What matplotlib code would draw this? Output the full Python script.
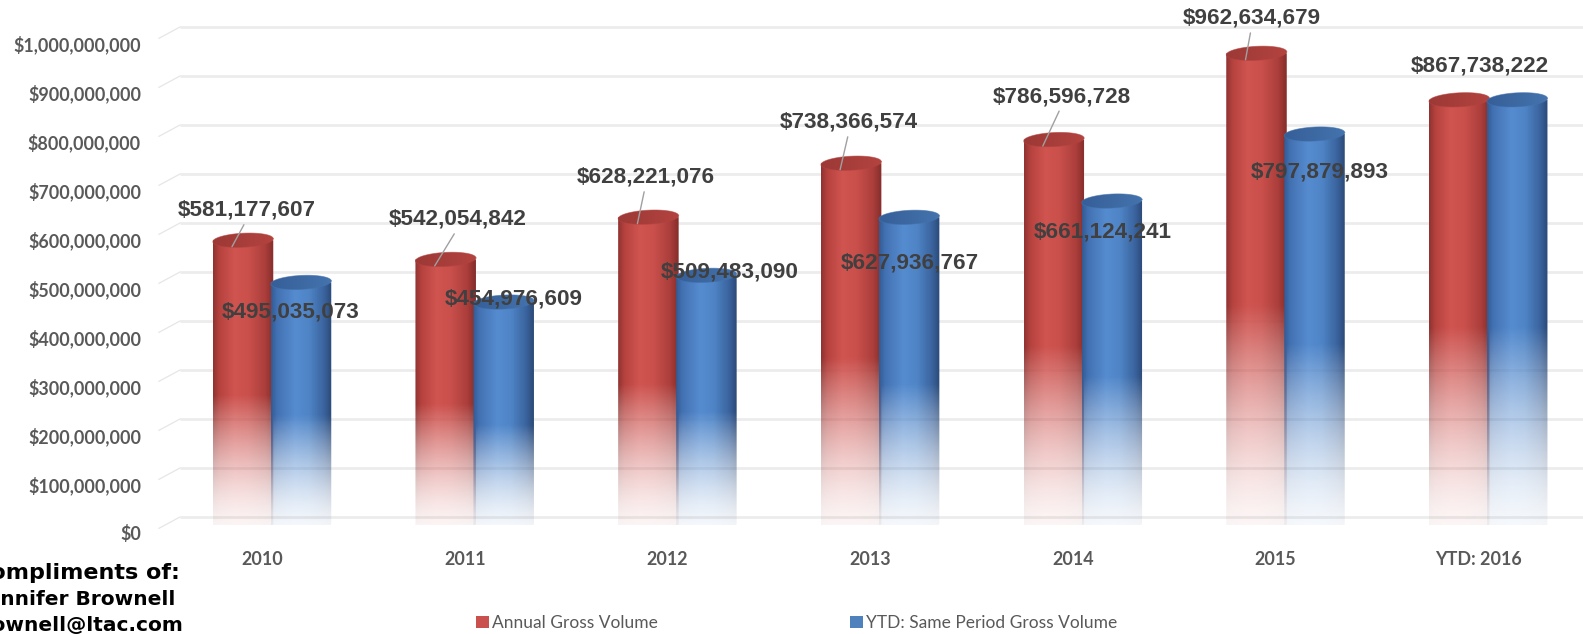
import numpy as np
import matplotlib
matplotlib.use('Agg')
import matplotlib.pyplot as plt
from matplotlib.path import Path
from matplotlib.patches import PathPatch, Patch
from matplotlib.transforms import ScaledTranslation

# ---------------- data ----------------
categories = ['2010', '2011', '2012', '2013', '2014', '2015', 'YTD: 2016']
annual = [581177607, 542054842, 628221076, 738366574, 786596728, 962634679, 867738222]
ytd_same = [495035073, 454976609, 509483090, 627936767, 661124241, 797879893, 867738222]
y_ticks = list(range(0, 1_000_000_001, 100_000_000))
series_names = ['Annual Gross Volume', 'YTD: Same Period Gross Volume']

# label offsets (pixels) relative to the bar top centre
annual_lbl_off = [(4, 30), (12, 40), (-3, 40), (-2, 41), (8, 43), (-5, 35), (21, 34)]
annual_leader = [True, True, True, True, True, True, False]
ytd_lbl_off = [(-10, -30), (10, 3), (23, 3), (1, -46), (-9, -31), (5, -38), None]

# ---------------- figure ----------------
W, H = 1583, 634
DPI = 100
fig = plt.figure(figsize=(W / DPI, H / DPI), dpi=DPI)
fig.patch.set_facecolor('white')

ax_left_px, ax_right_px = 159, 1583
ax_bottom_px, ax_top_px = 525, 35
ax = fig.add_axes([ax_left_px / W, 1 - ax_bottom_px / H,
                   (ax_right_px - ax_left_px) / W, (ax_bottom_px - ax_top_px) / H])

cat_px = 202.7          # pixels per category
val_px = 49.0           # pixels per 100 000 000
PX = 1.0 / cat_px       # one pixel in x data units
PY = 1e8 / val_px       # one pixel in y data units
xmin = -(262 - ax_left_px) / cat_px
xmax = xmin + (ax_right_px - ax_left_px) / cat_px
ax.set_xlim(xmin, xmax)
ax.set_ylim(0, 1e9)
ax.set_facecolor('none')
for s in ax.spines.values():
    s.set_visible(False)

# ---------------- grid (3-D wall look) ----------------
back_dx = 21 * PX
back_dy = 8 * PY
for v in y_ticks:
    ax.plot([xmin + back_dx, xmax], [v + back_dy, v + back_dy], color='#ececec',
            lw=2.0, zorder=0, solid_capstyle='butt', clip_on=False)
    ax.plot([xmin, xmin + back_dx], [v - 3.3 * PY, v + back_dy], color='#e6e6e6',
            lw=0.9, zorder=0, clip_on=False)

# ---------------- cylinders ----------------
def hex2rgb(c):
    return np.array([int(c[i:i + 2], 16) for i in (1, 3, 5)]) / 255.0

red_stops = [(0.00, '#8f3331'), (0.10, '#b6423e'), (0.35, '#d05450'),
             (0.58, '#ca504c'), (0.86, '#ab3e3b'), (1.00, '#842d2b')]
blue_stops = [(0.00, '#335b95'), (0.10, '#4372b3'), (0.40, '#558cd0'),
              (0.62, '#4f85c7'), (0.88, '#3a639d'), (1.00, '#2a4a78')]
red_top = ('#9c3936', '#b3433f')
blue_top = ('#365f98', '#4473ad')

def profile(stops, n=80):
    t = np.linspace(0, 1, n)
    ts = [s[0] for s in stops]
    cols = np.array([hex2rgb(s[1]) for s in stops])
    return np.stack([np.interp(t, ts, cols[:, k]) for k in range(3)], axis=1)

bar_w = 60.5 * PX
ell_b = 7 * PY           # half height of ellipses
tilt = 1.5 * PY          # slight perspective tilt of the top

def ellipse_pts(xc, yc, a, b, t0, t1, n=60):
    t = np.linspace(t0, t1, n)
    return np.column_stack([xc + a * np.cos(t), yc + b * np.sin(t) + tilt * np.cos(t)])

def cylinder(xc, v, stops, topcols, z):
    a = bar_w / 2
    x0, x1 = xc - a, xc + a
    bottom = ellipse_pts(xc, 0, a, ell_b, np.pi, 2 * np.pi)
    verts = np.vstack([[x0, v], bottom, [x1, v], [x0, v]])
    codes = [Path.MOVETO] + [Path.LINETO] * (len(verts) - 2) + [Path.CLOSEPOLY]
    clip = PathPatch(Path(verts, codes), transform=ax.transData, facecolor='none', edgecolor='none')
    ax.add_patch(clip)
    rows = 240
    prof = profile(stops)
    ys = np.linspace(-ell_b, v, rows)
    rel = np.clip((ys + ell_b) / (0.48 * v), 0, 1)
    alpha = 0.05 + 0.95 * rel ** 1.5
    img = np.zeros((rows, prof.shape[0], 4))
    img[:, :, :3] = prof[None, :, :]
    img[:, :, 3] = alpha[:, None]
    im = ax.imshow(img, extent=(x0, x1, -ell_b, v), origin='lower', aspect='auto',
                   interpolation='bilinear', zorder=z)
    im.set_clip_path(clip)
    top = ellipse_pts(xc, v, a, ell_b, 0, 2 * np.pi, 100)
    tcodes = [Path.MOVETO] + [Path.LINETO] * (len(top) - 2) + [Path.CLOSEPOLY]
    tclip = PathPatch(Path(top, tcodes), transform=ax.transData, facecolor='none', edgecolor='none')
    ax.add_patch(tclip)
    c0, c1 = hex2rgb(topcols[0]), hex2rgb(topcols[1])
    tt = np.linspace(0, 1, 40)
    timg = (c0[None, :] * (1 - tt[:, None]) + c1[None, :] * tt[:, None])[None, :, :]
    timg = np.repeat(timg, 2, axis=0)
    tim = ax.imshow(timg, extent=(x0, x1, v - ell_b - 2 * tilt, v + ell_b + 2 * tilt),
                    origin='lower', aspect='auto', interpolation='bilinear', zorder=z + 0.5)
    tim.set_clip_path(tclip)
    ax.plot(top[:, 0], top[:, 1], color=topcols[1], lw=0.6, zorder=z + 0.6, alpha=0.6)

red_off = (243 - 262) / cat_px
blue_off = (301 - 262) / cat_px

for i in range(len(categories)):
    cylinder(i + red_off, annual[i], red_stops, red_top, 2 + i * 0.01)
    cylinder(i + blue_off, ytd_same[i], blue_stops, blue_top, 3 + i * 0.01)

# ---------------- data labels ----------------
lbl_kw = dict(fontsize=16.2, fontweight='bold', family='Liberation Sans', color='#404040',
              ha='center', va='center', zorder=10, annotation_clip=False)
for i in range(len(categories)):
    xr = i + red_off
    dx, dy = annual_lbl_off[i]
    txt = '${:,.0f}'.format(annual[i])
    if annual_leader[i]:
        ax.annotate(txt, xy=(xr - 11 * PX, annual[i] - 6.5 * PY),
                    xytext=(dx + 11, dy + 6.5), textcoords='offset pixels',
                    arrowprops=dict(arrowstyle='-', color='#a0a0a0', lw=1.0,
                                    shrinkA=1, shrinkB=0, relpos=(0.5, 0.08)),
                    **lbl_kw)
    else:
        ax.annotate(txt, xy=(xr, annual[i]), xytext=(dx, dy),
                    textcoords='offset pixels', **lbl_kw)
    if ytd_lbl_off[i] is not None:
        xb = i + blue_off
        dx, dy = ytd_lbl_off[i]
        ax.annotate('${:,.0f}'.format(ytd_same[i]), xy=(xb, ytd_same[i]), xytext=(dx, dy),
                    textcoords='offset pixels', **lbl_kw)

# ---------------- axes ticks ----------------
ax.set_yticks(y_ticks, ['${:,.0f}'.format(v) for v in y_ticks])
ax.set_xticks(range(len(categories)), categories)
ax.tick_params(axis='y', length=0, pad=13, labelsize=12.9, labelcolor='#595959')
ax.tick_params(axis='x', length=0, pad=19, labelsize=12.9, labelcolor='#595959')
off = ScaledTranslation(0, -8 / DPI, fig.dpi_scale_trans)
for t in ax.yaxis.get_major_ticks():
    t.label1.set_transform(t.label1.get_transform() + off)
for lab in ax.get_yticklabels() + ax.get_xticklabels():
    lab.set_fontfamily('Lato')
    lab.set_fontweight('bold')

# ---------------- legend ----------------
leg_kw = dict(loc='center left', frameon=False, borderpad=0, borderaxespad=0,
              handlelength=0.75, handleheight=0.75, handletextpad=0.2,
              prop={'family': 'Lato', 'size': 12.5}, labelcolor='#595959')
fig.legend([Patch(facecolor='#c9504c', edgecolor='none')], [series_names[0]],
           bbox_to_anchor=(476 / W, 1 - 623 / H), **leg_kw)
fig.legend([Patch(facecolor='#4f81bd', edgecolor='none')], [series_names[1]],
           bbox_to_anchor=(850 / W, 1 - 623 / H), **leg_kw)

# ---------------- compliments text (cut at the left edge, as in the original) ----------------
fig.text(180 / W, 1 - 579 / H, 'Compliments of:', ha='right', va='baseline',
         family='DejaVu Sans', fontweight='bold', fontsize=16, color='black')
fig.text(175 / W, 1 - 605 / H, 'Jennifer Brownell', ha='right', va='baseline',
         family='DejaVu Sans', fontweight='bold', fontsize=14.5, color='black')
fig.text(183 / W, 1 - 631 / H, 'jbrownell@ltac.com', ha='right', va='baseline',
         family='DejaVu Sans', fontweight='bold', fontsize=14.5, color='black')

fig.savefig('out.png', dpi=DPI, facecolor='white')
